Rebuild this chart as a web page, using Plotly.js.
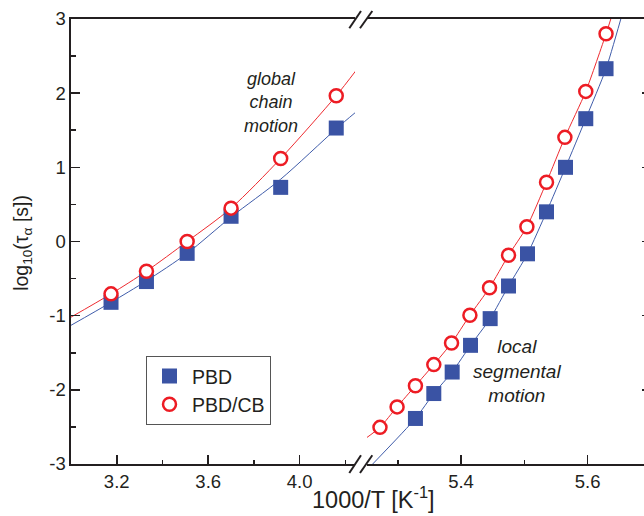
<!DOCTYPE html>
<html>
<head>
<meta charset="utf-8">
<script src="https://cdn.plot.ly/plotly-3.0.1.min.js"></script>
<style>
html, body { margin: 0; padding: 0; overflow: hidden; background: #fff; }
#chart { width: 660px; height: 516px; }
</style>
</head>
<body>
<div id="chart"></div>
<script>
// ---------- data ----------
// global chain motion (left x-range)
const xGlobal      = [3.175, 3.33, 3.508, 3.70, 3.917, 4.16];
const pbdGlobal    = [-0.82, -0.54, -0.16, 0.34, 0.73, 1.53];
const pbdcbGlobal  = [-0.706, -0.40, 0.0, 0.45, 1.12, 1.966];

// local segmental motion (right x-range)
const xSegPBD      = [5.328, 5.357, 5.386, 5.415, 5.446, 5.475, 5.505, 5.535, 5.565, 5.597, 5.629];
const pbdSeg       = [-2.386, -2.05, -1.76, -1.40, -1.04, -0.60, -0.166, 0.40, 1.00, 1.656, 2.33];
const xSegCB       = [5.272, 5.299, 5.328, 5.357, 5.385, 5.414, 5.445, 5.475, 5.504, 5.535, 5.564, 5.597, 5.629];
const pbdcbSeg     = [-2.506, -2.23, -1.944, -1.66, -1.369, -0.994, -0.624, -0.185, 0.198, 0.80, 1.404, 2.024, 2.80];

// fit curves
const fitGlobalX     = [3.0, 3.175, 3.33, 3.508, 3.70, 3.917, 4.16, 4.245];
const fitGlobalPBD   = [-1.13, -0.82, -0.53, -0.16, 0.33, 0.84, 1.52, 1.743];
const fitGlobalCB    = [-1.02, -0.706, -0.40, 0.0, 0.45, 1.12, 1.966, 2.30];
const fitSegPBDX     = [5.2605, 5.328, 5.357, 5.386, 5.415, 5.446, 5.475, 5.505, 5.535, 5.565, 5.597, 5.629, 5.6523];
const fitSegPBDY     = [-3.0, -2.386, -2.05, -1.76, -1.40, -1.04, -0.60, -0.166, 0.40, 1.00, 1.656, 2.33, 3.0];
const fitSegCBX      = [5.2494, 5.272, 5.299, 5.328, 5.357, 5.385, 5.414, 5.445, 5.475, 5.504, 5.535, 5.564, 5.597, 5.629, 5.6365];
const fitSegCBY      = [-2.655, -2.506, -2.23, -1.944, -1.66, -1.369, -0.994, -0.624, -0.185, 0.198, 0.80, 1.404, 2.024, 2.80, 3.0];

// ticks / labels
const yTickVals = [-3, -2, -1, 0, 1, 2, 3];
const yTickText = ['-3', '-2', '-1', '0', '1', '2', '3'];
const seriesNames = ['PBD', 'PBD/CB'];

// ---------- styling ----------
const BLUE = '#3a53a4', BLUE_LINE = '#3f5caa';
const RED = '#ed1c24', RED_LINE = '#ee2b30';
const INK = '#231f20';
const FONT = 'Arial, "Liberation Sans", sans-serif';

const traces = [
  {x: fitGlobalX, y: fitGlobalPBD, xaxis: 'x', yaxis: 'y', mode: 'lines', line: {color: BLUE_LINE, width: 1, shape: 'spline', smoothing: 0.8}, showlegend: false, hoverinfo: 'skip'},
  {x: fitGlobalX, y: fitGlobalCB, xaxis: 'x', yaxis: 'y', mode: 'lines', line: {color: RED_LINE, width: 1, shape: 'spline', smoothing: 0.8}, showlegend: false, hoverinfo: 'skip'},
  {x: fitSegPBDX, y: fitSegPBDY, xaxis: 'x2', yaxis: 'y2', mode: 'lines', line: {color: BLUE_LINE, width: 1, shape: 'spline', smoothing: 0.6}, showlegend: false, hoverinfo: 'skip'},
  {x: fitSegCBX, y: fitSegCBY, xaxis: 'x2', yaxis: 'y2', mode: 'lines', line: {color: RED_LINE, width: 1, shape: 'spline', smoothing: 0.6}, showlegend: false, hoverinfo: 'skip'},
  {x: xGlobal, y: pbdGlobal, xaxis: 'x', yaxis: 'y', mode: 'markers', name: seriesNames[0], legendgroup: 'pbd',
   marker: {symbol: 'square', size: 15, color: BLUE}},
  {x: xSegPBD, y: pbdSeg, xaxis: 'x2', yaxis: 'y2', mode: 'markers', name: seriesNames[0], legendgroup: 'pbd', showlegend: false,
   marker: {symbol: 'square', size: 15, color: BLUE}},
  {x: xGlobal, y: pbdcbGlobal, xaxis: 'x', yaxis: 'y', mode: 'markers', name: seriesNames[1], legendgroup: 'cb',
   marker: {symbol: 'circle', size: 13, color: '#ffffff', line: {color: RED, width: 2.5}}},
  {x: xSegCB, y: pbdcbSeg, xaxis: 'x2', yaxis: 'y2', mode: 'markers', name: seriesNames[1], legendgroup: 'cb', showlegend: false,
   marker: {symbol: 'circle', size: 13, color: '#ffffff', line: {color: RED, width: 2.5}}}
];

const PL = 71, PR = 651, PT = 19, PB = 464.3;   // plot box in pixels
const W = 660, H = 516;
const pw = PR - PL, ph = PB - PT;
const px = v => (v - PL) / pw;
const py = v => (PB - v) / ph;

const TF = 18.5;
const xCommon = {
  showline: true, linecolor: INK, linewidth: 1.6, mirror: true,
  ticks: 'inside', ticklen: 9, tickwidth: 1.6, tickcolor: INK,
  showgrid: false, zeroline: false,
  tickfont: {family: FONT, size: TF, color: INK},
  tickformat: '.1f', tickmode: 'linear',
  fixedrange: true
};
const yMinor = {tickmode: 'linear', tick0: 0, dtick: 0.5, ticklen: 5, tickwidth: 1.6, tickcolor: INK, ticks: 'inside', showgrid: false};

const layout = {
  width: W, height: H,
  margin: {l: PL, r: W - PR, t: PT, b: H - PB, pad: 0},
  paper_bgcolor: '#ffffff', plot_bgcolor: '#ffffff',
  font: {family: FONT, color: INK},
  xaxis: Object.assign({}, xCommon, {
    anchor: 'y', domain: [0, px(355)], range: [3.0, 4.242], tick0: 3.2, dtick: 0.4,
    minor: {tickmode: 'linear', tick0: 3.0, dtick: 0.2, ticklen: 4.5, tickwidth: 1.6, tickcolor: INK, ticks: 'inside', showgrid: false}
  }),
  xaxis2: Object.assign({}, xCommon, {
    anchor: 'y2', domain: [px(367), 1], range: [5.2515, 5.7], tick0: 5.4, dtick: 0.2,
    minor: {tickmode: 'linear', tick0: 5.3, dtick: 0.1, ticklen: 4.5, tickwidth: 1.6, tickcolor: INK, ticks: 'inside', showgrid: false}
  }),
  yaxis: {
    domain: [0, 1], range: [-3, 3], anchor: 'x', side: 'left',
    showline: true, linecolor: INK, linewidth: 1.6, mirror: false,
    ticks: 'inside', ticklen: 9, tickwidth: 1.6, tickcolor: INK,
    tickmode: 'array', tickvals: yTickVals, ticktext: yTickText,
    minor: yMinor,
    showgrid: false, zeroline: false,
    tickfont: {family: FONT, size: TF, color: INK},
    fixedrange: true
  },
  yaxis2: {
    domain: [0, 1], range: [-3, 3], anchor: 'x2', side: 'right',
    showline: false, mirror: false,
    ticks: 'inside', ticklen: 9, tickwidth: 1.6, tickcolor: INK,
    tickmode: 'array', tickvals: yTickVals, showticklabels: false,
    minor: yMinor,
    showgrid: false, zeroline: false,
    fixedrange: true
  },
  showlegend: true,
  legend: {
    x: px(146), y: py(356), xanchor: 'left', yanchor: 'top',
    bgcolor: '#ffffff', bordercolor: '#555555', borderwidth: 1,
    font: {family: FONT, size: 19.5, color: INK},
    tracegroupgap: 0, itemwidth: 35
  },
  annotations: [
    {xref: 'paper', yref: 'paper', x: px(271), y: py(103), xanchor: 'center', yanchor: 'middle', showarrow: false,
     text: 'global<br>chain<br>motion', font: {family: FONT, size: 18, color: INK, style: 'italic'}},
    {xref: 'paper', yref: 'paper', x: px(517), y: py(371), xanchor: 'center', yanchor: 'middle', showarrow: false,
     text: 'local<br>segmental<br>motion', font: {family: FONT, size: 19, color: INK, style: 'italic'}},
    {xref: 'paper', yref: 'paper', x: px(373), y: py(515.5), xanchor: 'center', yanchor: 'bottom', showarrow: false,
     text: '1000/T [K<sup>-1</sup>]', font: {family: FONT, size: 23.5, color: INK}},
    {xref: 'paper', yref: 'paper', x: px(23), y: py(243), xanchor: 'center', yanchor: 'middle', showarrow: false, textangle: -90,
     text: 'log<sub>10</sub>(τ<sub>α</sub> [s])', font: {family: FONT, size: 19.5, color: INK}}
  ],
  shapes: [
    {type: 'line', xref: 'paper', yref: 'paper', x0: px(349.3), y0: py(28.3), x1: px(361), y1: py(11), line: {color: INK, width: 2}},
    {type: 'line', xref: 'paper', yref: 'paper', x0: px(360), y0: py(28.3), x1: px(372.3), y1: py(11), line: {color: INK, width: 2}},
    {type: 'line', xref: 'paper', yref: 'paper', x0: px(349.3), y0: py(473.3), x1: px(361), y1: py(455.5), line: {color: INK, width: 2}},
    {type: 'line', xref: 'paper', yref: 'paper', x0: px(360), y0: py(473.3), x1: px(372.3), y1: py(455.5), line: {color: INK, width: 2}}
  ]
};

Plotly.newPlot('chart', traces, layout, {staticPlot: true, displayModeBar: false});
</script>
</body>
</html>
